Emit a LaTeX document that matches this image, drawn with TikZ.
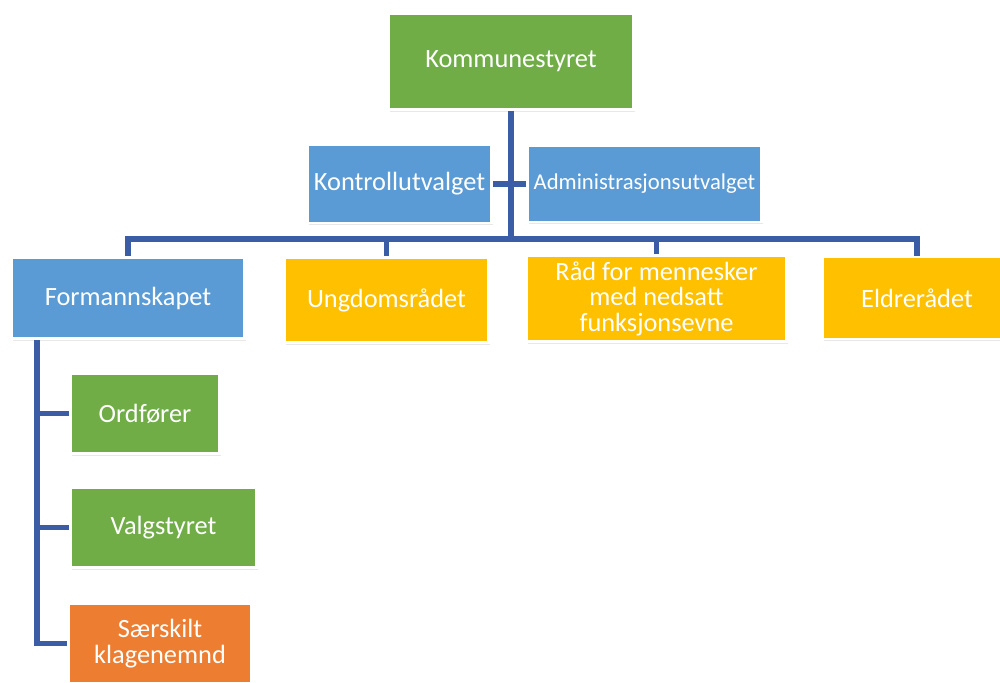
\documentclass[tikz,border=0pt]{standalone}
\usepackage{fontspec}
\setmainfont{Carlito}
\usepackage{tikz}
\usetikzlibrary{shadows}
\definecolor{boardgreen}{HTML}{70AD47}
\definecolor{boardblue}{HTML}{5B9BD5}
\definecolor{councilyellow}{HTML}{FFC000}
\definecolor{appealorange}{HTML}{ED7D31}
\definecolor{linkblue}{HTML}{3A5DA6}
\tikzstyle{link} = [draw=linkblue, line width=3.2pt]

\begin{document}
\begin{tikzpicture}[unit/.style={rectangle, fill=#1, draw=white, line width=1.6pt, text=white, align=center,
        font=\fontsize{15}{14.5}\selectfont,
        drop shadow={shadow xshift=0.8pt, shadow yshift=-1.2pt, opacity=0.18}}]
\useasboundingbox (0, 0) rectangle (20, -13.64);

\node[unit=boardgreen, minimum width=4.9cm, minimum height=1.92cm] (kommune) at (10.22, -1.23) {Kommunestyret};

\node[unit=boardblue, minimum width=3.68cm, minimum height=1.56cm] (kontroll) at (7.99, -3.68) {Kontrollutvalget};
\node[unit=boardblue, minimum width=4.52cm, minimum height=1.52cm, font=\fontsize{12.9}{13}\selectfont] (admin) at (12.89, -3.68) {Administrasjonsutvalget};

\node[unit=boardblue, minimum width=4.66cm, minimum height=1.62cm] (formann) at (2.56, -5.96) {Formannskapet};
\node[unit=councilyellow, minimum width=4.08cm, minimum height=1.7cm] (ungdom) at (7.73, -6.0) {Ungdomsrådet};
\node[unit=councilyellow, minimum width=5.2cm, minimum height=1.64cm] (raad) at (13.13, -5.97) {Råd for mennesker\\med nedsatt\\funksjonsevne};
\node[unit=councilyellow, minimum width=3.78cm, minimum height=1.64cm] (eldre) at (18.34, -5.96) {Eldrerådet};

\node[unit=boardgreen, minimum width=2.98cm, minimum height=1.6cm] (ordforer) at (2.9, -8.27) {Ordfører};
\node[unit=boardgreen, minimum width=3.72cm, minimum height=1.6cm] (valg) at (3.27, -10.55) {Valgstyret};
\node[unit=appealorange, minimum width=3.66cm, minimum height=1.6cm] (klage) at (3.2, -12.87) {Særskilt\\klagenemnd};

\coordinate (bar) at (10.2, -4.78);
\coordinate (spine) at (0.74, -6.77);

\draw[link] (kommune.south) -- (kommune.south |- bar);
\draw[link] (kontroll.east) -- (admin.west);
\draw[link] (formann.north) |- (bar) -| (eldre.north);
\draw[link] (ungdom.north) -- (ungdom.north |- bar);
\draw[link] (raad.north) -- (raad.north |- bar);

\draw[link] (formann.south -| spine) |- (klage.west);
\draw[link] (ordforer.west) -- (ordforer.west -| spine);
\draw[link] (valg.west) -- (valg.west -| spine);
\end{tikzpicture}
\end{document}
